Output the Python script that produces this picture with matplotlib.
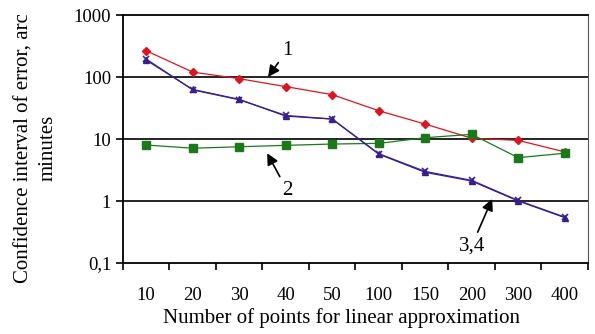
import matplotlib
matplotlib.use("Agg")
import matplotlib.pyplot as plt
from matplotlib.ticker import FixedLocator, NullFormatter

plt.rcParams["font.family"] = ["Liberation Serif", "DejaVu Serif"]

points = ["10", "20", "30", "40", "50", "100", "150", "200", "300", "400"]
curve1 = [265, 120, 94, 70, 52, 28.6, 17.4, 10.3, 9.5, 6.2]
curve2 = [8.0, 7.1, 7.5, 7.9, 8.3, 8.5, 10.5, 11.9, 5.0, 5.9]
curve3 = [187, 63, 43.6, 23.4, 21, 5.7, 2.9, 2.1, 1.0, 0.54]
curve4 = [195, 62, 43, 24, 21, 5.8, 3.0, 2.15, 1.02, 0.55]
yticks = [0.1, 1, 10, 100, 1000]
ytick_labels = ["0,1", "1", "10", "100", "1000"]

fig = plt.figure(figsize=(5.95, 3.34), dpi=100)
ax = fig.add_axes([0.2067, 0.2126, 0.7815, 0.7424])

x = list(range(len(points)))
ax.plot(x, curve1, color="#e0141e", marker="D", ms=4.5, lw=0.9)
ax.plot(x, curve2, color="#1a7a1a", marker="s", ms=5.5, lw=0.9)
ax.plot(x, curve4, color="#3322aa", marker="x", ms=5, lw=0.9, mew=1.2)
ax.plot(x, curve3, color="#3a1f8c", marker="^", ms=5, lw=0.9)

ax.set_yscale("log")
ax.set_ylim(0.1, 1000)
ax.set_xlim(-0.5, len(points) - 0.5)
ax.yaxis.set_major_locator(FixedLocator(yticks))
ax.set_yticklabels(ytick_labels)
ax.yaxis.set_minor_locator(FixedLocator([]))
for yv in yticks[1:-1]:
    ax.axhline(yv, color="black", lw=1.2, zorder=0)

ax.set_xticks(x)
ax.set_xticklabels(points)
ax.set_xticks([i - 0.5 for i in range(len(points) + 1)], minor=True)
ax.xaxis.set_minor_formatter(NullFormatter())
ax.tick_params(axis="x", which="major", length=0, pad=17, labelsize=13.5)
ax.tick_params(axis="x", which="minor", length=5, width=1.2, direction="out")
ax.tick_params(axis="y", length=5, width=1.2, labelsize=13.5)

for s in ["left", "bottom", "top"]:
    ax.spines[s].set_linewidth(1.3)
ax.spines["right"].set_color("#555555")

ax.set_xlabel("Number of points for linear approximation", fontsize=15)
ax.xaxis.set_label_coords(0.469, -0.18)
fig.text(36 / 595, 1 - 148 / 334, "Confidence interval of error, arc\nminutes",
         rotation=90, ha="center", va="center", fontsize=15, linespacing=1.3)

arrow = dict(arrowstyle="-|>", mutation_scale=17, color="black", lw=1.2,
             shrinkA=1, shrinkB=0)
ax.annotate("1", xy=(2.62, 100), xytext=(3.03, 270), fontsize=15,
            ha="center", va="center", arrowprops=arrow)
ax.annotate("2", xy=(2.60, 5.9), xytext=(3.03, 1.5), fontsize=15,
            ha="center", va="center", arrowprops=arrow)
ax.annotate("3,4", xy=(7.44, 1.08), xytext=(7.0, 0.19), fontsize=15,
            ha="center", va="center", arrowprops=arrow)

fig.savefig("out.png", dpi=100)
